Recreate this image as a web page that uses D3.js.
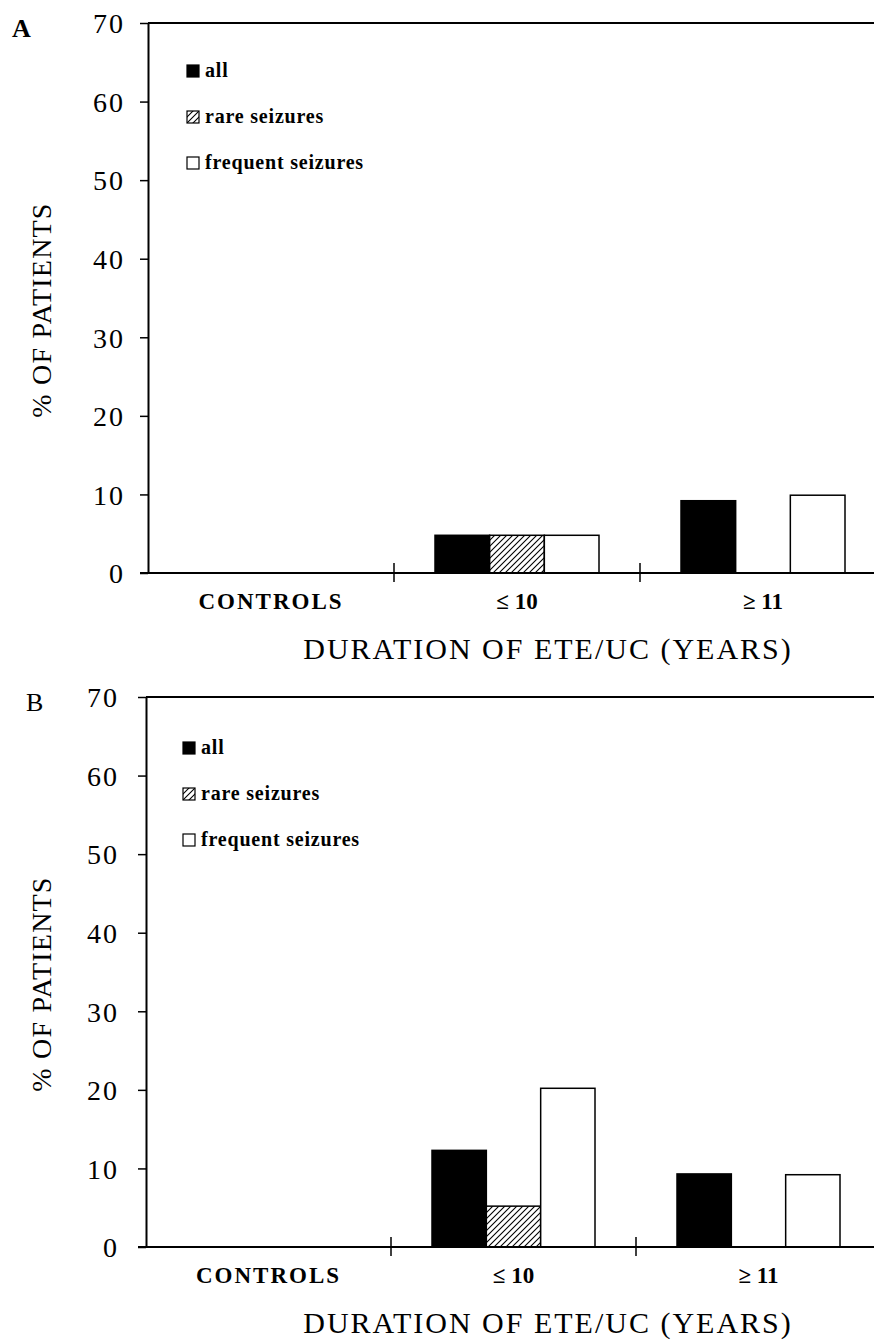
<!DOCTYPE html>
<html>
<head>
<meta charset="utf-8">
<script src="https://cdn.jsdelivr.net/npm/d3@7"></script>
<style>
  body { margin: 0; background: #fff; }
  svg text { font-family: "Liberation Serif", "Times New Roman", serif; fill: #000; }
</style>
</head>
<body>
<svg id="chart" width="874" height="1344"></svg>
<script>
// categories and series
var categories = ["CONTROLS", "\u2264 10", "\u2265 11"];
var seriesNames = ["all", "rare seizures", "frequent seizures"];
var yTicks = [0, 10, 20, 30, 40, 50, 60, 70];

// values per category: [all, rare, frequent]
var panelA_all = [0, 4.8, 9.2];
var panelA_rare = [0, 4.8, 0];
var panelA_frequent = [0, 4.8, 9.9];

var panelB_all = [0, 12.3, 9.3];
var panelB_rare = [0, 5.2, 0];
var panelB_frequent = [0, 20.2, 9.2];

var svg = d3.select("#chart");

// hatch pattern for the rare seizures series
var defs = svg.append("defs");
var pat = defs.append("pattern")
	.attr("id", "hatch")
	.attr("patternUnits", "userSpaceOnUse")
	.attr("width", 6).attr("height", 6);
pat.append("rect").attr("width", 6).attr("height", 6).attr("fill", "#fff");
pat.append("path")
	.attr("d", "M-1,1 l2,-2 M0,6 l6,-6 M5,7 l2,-2")
	.attr("stroke", "#000").attr("stroke-width", 1.1);

var fills = ["#000", "url(#hatch)", "#fff"];

function drawPanel(opt, values) {
	var top = opt.top, left = opt.left;
	var bottom = top + 550;
	var g = svg.append("g");

	var y = d3.scaleLinear().domain([0, 70]).range([bottom, top]);
	var x = d3.scaleBand().domain(categories).range([left, left + 3 * opt.band]).padding(0);
	var xs = d3.scaleBand().domain(seriesNames).range([41, x.bandwidth() - 41]).padding(0);

	// frame top line
	g.append("line")
		.attr("x1", left).attr("x2", 874).attr("y1", top).attr("y2", top)
		.attr("stroke", "#000").attr("stroke-width", 2);

	// y axis
	var yAxis = d3.axisLeft(y).tickValues(yTicks).tickSize(8).tickPadding(opt.pad).tickSizeOuter(0);
	var ya = g.append("g").attr("transform", "translate(" + left + ",0)").call(yAxis);
	ya.select(".domain").attr("stroke-width", 2);
	ya.selectAll(".tick line").attr("stroke-width", 1.5);
	ya.selectAll(".tick text")
		.style("font-family", "'Liberation Serif', serif")
		.style("font-size", "28px")
		.style("letter-spacing", "2px")
		.attr("dy", "0.35em");

	// bars
	var rows = categories.map(function (c, i) {
		return seriesNames.map(function (s, j) {
			return { cat: c, series: s, idx: j, value: values[j][i] };
		});
	});
	var groups = g.selectAll(".grp").data(rows).enter().append("g")
		.attr("transform", function (d, i) { return "translate(" + x(categories[i]) + ",0)"; });
	groups.selectAll("rect")
		.data(function (d) { return d.filter(function (b) { return b.value > 0; }); })
		.enter().append("rect")
		.attr("x", function (d) { return xs(d.series); })
		.attr("width", xs.bandwidth())
		.attr("y", function (d) { return y(d.value); })
		.attr("height", function (d) { return bottom - y(d.value); })
		.attr("fill", function (d) { return fills[d.idx]; })
		.attr("stroke", "#000")
		.attr("stroke-width", 1.5);

	// x axis line and category divider ticks
	g.append("line")
		.attr("x1", left - 8).attr("x2", 874).attr("y1", bottom).attr("y2", bottom)
		.attr("stroke", "#000").attr("stroke-width", 2);
	g.selectAll(".xdiv").data(categories.slice(1)).enter().append("line")
		.attr("x1", function (d) { return x(d); })
		.attr("x2", function (d) { return x(d); })
		.attr("y1", bottom - 10).attr("y2", bottom + 9)
		.attr("stroke", "#000").attr("stroke-width", 1.5);

	// category labels
	g.selectAll(".xlab").data(categories).enter().append("text")
		.attr("x", function (d) { return x(d) + x.bandwidth() / 2; })
		.attr("y", bottom + 36)
		.attr("text-anchor", "middle")
		.style("font-size", "23px")
		.style("font-weight", "bold")
		.style("letter-spacing", function (d) { return d === "CONTROLS" ? "2px" : "0px"; })
		.text(function (d) { return d; });

	// x title
	g.append("text")
		.attr("x", 548).attr("y", bottom + 86)
		.attr("text-anchor", "middle")
		.style("font-size", "30px")
		.style("letter-spacing", "2px")
		.text("DURATION OF ETE/UC (YEARS)");

	// y title
	g.append("text")
		.attr("transform", "translate(51," + (top + 287) + ") rotate(-90)")
		.attr("text-anchor", "middle")
		.style("font-size", "28px")
		.style("letter-spacing", "1.2px")
		.text("% OF PATIENTS");

	// panel letter
	g.append("text")
		.attr("x", opt.letterX).attr("y", top + 14)
		.style("font-size", "26px")
		.style("font-weight", opt.letterWeight)
		.text(opt.letter);

	// legend
	var leg = g.selectAll(".leg").data(seriesNames).enter().append("g")
		.attr("transform", function (d, i) { return "translate(" + opt.legX + "," + (top + opt.legY + i * 46) + ")"; });
	leg.append("rect")
		.attr("width", 12).attr("height", 12)
		.attr("fill", function (d, i) { return fills[i]; })
		.attr("stroke", "#000").attr("stroke-width", 1.2);
	leg.append("text")
		.attr("x", 18).attr("y", 12)
		.style("font-size", "20px")
		.style("font-weight", "bold")
		.style("letter-spacing", "0.8px")
		.text(function (d) { return d; });
}

drawPanel({ letter: "A", letterX: 12, letterWeight: "bold", top: 23, left: 148, band: 246, pad: 15, legX: 187, legY: 42 },
	[panelA_all, panelA_rare, panelA_frequent]);
drawPanel({ letter: "B", letterX: 26, letterWeight: "normal", top: 697, left: 146, band: 245, pad: 19, legX: 183, legY: 45 },
	[panelB_all, panelB_rare, panelB_frequent]);
</script>
</body>
</html>
